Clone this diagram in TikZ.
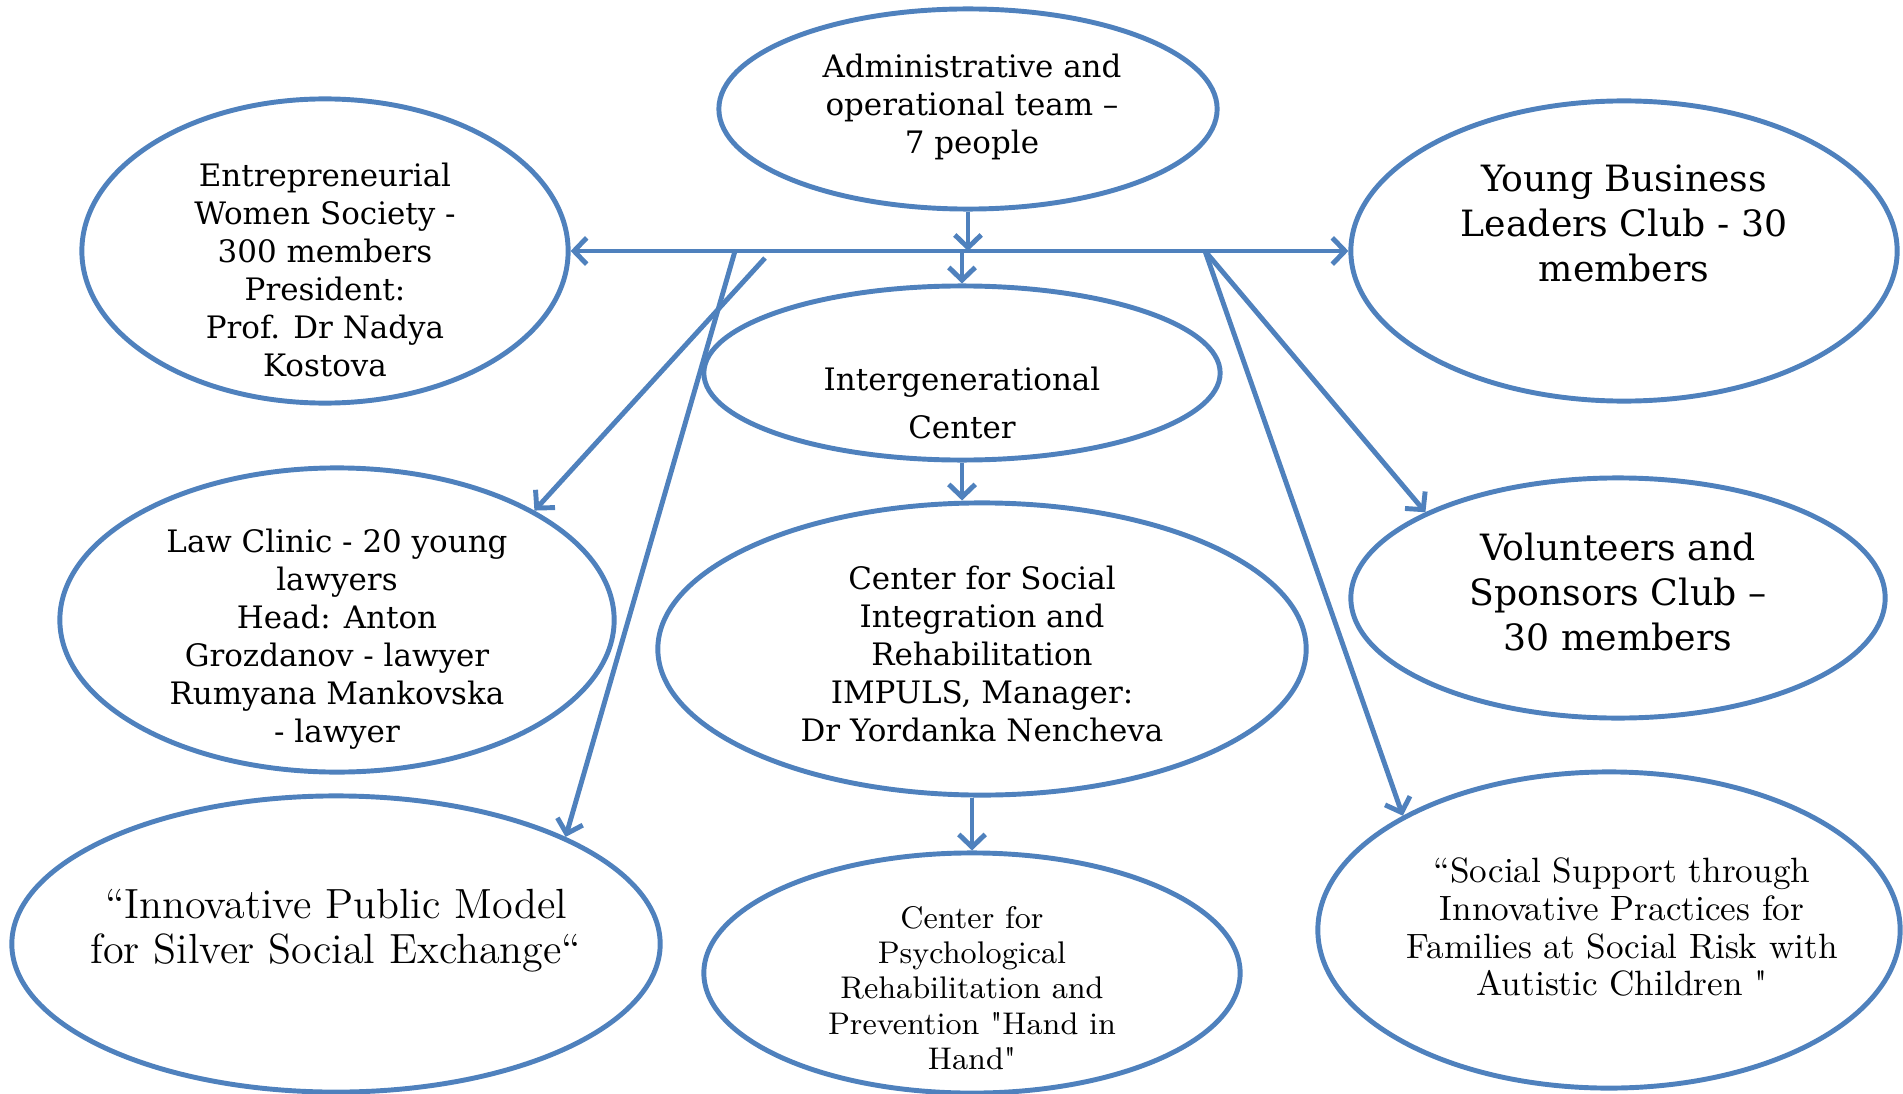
\documentclass[tikz,border=0pt]{standalone}
\usepackage{fontspec}
\usetikzlibrary{shapes.geometric, positioning, arrows.meta}
\usepackage{xcolor}
\definecolor{ChartBlue}{HTML}{4F81BD}
\newfontfamily\bookman{DejaVu Serif}

\begin{document}
\begin{tikzpicture}[x=0.01cm, y=-0.01cm,
    bubble/.style={ellipse, draw=ChartBlue, line width=1.4pt, inner sep=0pt},
    blurb/.style={align=center, font=\bookman\fontsize{8.8}{10.8}\selectfont},
    blurbbig/.style={align=center, font=\bookman\fontsize{10.3}{12.8}\selectfont},
    link/.style={draw=ChartBlue, line width=1.4pt, -{Straight Barb[length=3.6pt,width=7.5pt]}}]
    \useasboundingbox (0,0) rectangle (1903,1094);

    \node[bubble, minimum width=4.98cm, minimum height=2.0cm] (admin) at (968,109) {};
    \node[bubble, minimum width=4.86cm, minimum height=3.04cm] (entre) at (325,251) {};
    \node[bubble, minimum width=5.46cm, minimum height=3.0cm] (young) at (1624,251) {};
    \node[bubble, minimum width=5.16cm, minimum height=1.74cm] (inter) at (962,373) {};
    \node[bubble, minimum width=5.54cm, minimum height=3.04cm] (law) at (337,620) {};
    \node[bubble, minimum width=6.48cm, minimum height=2.92cm] (social) at (982,649) {};
    \node[bubble, minimum width=5.34cm, minimum height=2.4cm] (volun) at (1618,598) {};
    \node[bubble, minimum width=6.48cm, minimum height=2.96cm] (innov) at (336,944) {};
    \node[bubble, minimum width=5.36cm, minimum height=2.4cm] (psych) at (972,973) {};
    \node[bubble, minimum width=5.82cm, minimum height=3.16cm] (support) at (1609,930) {};

    \node[blurb] (admintext) at (972,107) {Administrative and\\operational team –\\7 people};
    \node[blurb] (entretext) at (325,270) {Entrepreneurial\\Women Society -\\300 members\\President:\\Prof. Dr Nadya\\Kostova};
    \node[blurbbig] (youngtext) at (1624,223) {Young Business\\Leaders Club - 30\\members};
    \node[blurb, font=\bookman\fontsize{8.8}{13.8}\selectfont] (intertext) at (962,403) {Intergenerational\\Center};
    \node[blurb] (lawtext) at (337,639) {Law Clinic - 20 young\\lawyers\\Head: Anton\\Grozdanov - lawyer\\Rumyana Mankovska\\- lawyer};
    \node[blurb] (socialtext) at (982,654) {Center for Social\\Integration and\\Rehabilitation\\IMPULS, Manager:\\Dr Yordanka Nencheva};
    \node[blurbbig] (voluntext) at (1618,592) {Volunteers and\\Sponsors Club –\\30 members};
    \node[align=center, font=\fontsize{12}{12.8}\selectfont] (innovtext) at (336,931) {“Innovative Public Model\\for Silver Social Exchange“};
    \node[align=center, font=\fontsize{8.9}{10}\selectfont] (psychtext) at (972,988) {Center for\\Psychological\\Rehabilitation and\\Prevention \textquotedbl{}Hand in\\Hand\textquotedbl{}};
    \node[align=center, font=\fontsize{10}{10.8}\selectfont] (supporttext) at (1622,927) {“Social Support through\\Innovative Practices for\\Families at Social Risk with\\Autistic Children \textquotedbl{}};

    \coordinate (forkL) at (735,251);
    \coordinate (forkM) at (765,258);
    \coordinate (forkR) at (1205,251);

    \draw[link, {Straight Barb[length=3.6pt,width=7.5pt]}-{Straight Barb[length=3.6pt,width=7.5pt]}] (entre.east) -- (young.west);
    \draw[link] (admin.south) -- (admin.south |- entre.east);
    \draw[link] (inter.north |- entre.east) -- (inter.north);
    \draw[link] (inter.south) -- (inter.south |- social.north);
    \draw[link] (psych.north |- social.south) -- (psych.north);
    \draw[link] (forkL) -- (innov.25);
    \draw[link] (forkM) -- (law.29);
    \draw[link] (forkR) -- (volun.156);
    \draw[link] (forkR) -- (support.151);
\end{tikzpicture}
\end{document}
